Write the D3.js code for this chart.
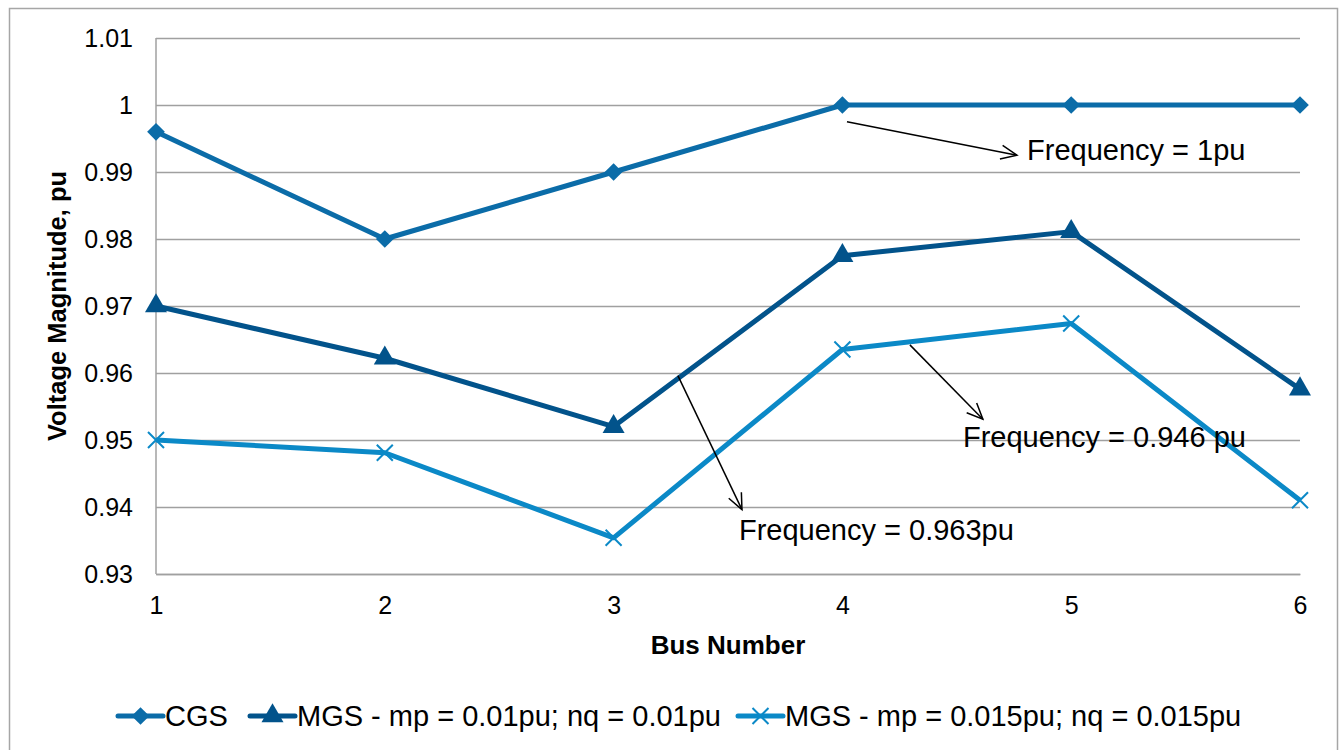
<!DOCTYPE html>
<html><head><meta charset="utf-8">
<script src="https://cdn.jsdelivr.net/npm/d3@7"></script>
<style>body{margin:0;background:#fff}svg{display:block;font-family:"Liberation Sans",Arial,sans-serif}</style>
</head><body><svg id="c" width="1341" height="750"></svg>
<script>
const buses = [1, 2, 3, 4, 5, 6];
const cgs = [0.996, 0.980, 0.990, 1.000, 1.000, 1.000];
const mgs1 = [0.970, 0.9622, 0.9520, 0.9775, 0.9811, 0.9576];
const mgs2 = [0.950, 0.9481, 0.9354, 0.9635, 0.9674, 0.9410];
const seriesNames = ["CGS", "MGS - mp = 0.01pu; nq = 0.01pu", "MGS - mp = 0.015pu; nq = 0.015pu"];
const yTicks = [0.93, 0.94, 0.95, 0.96, 0.97, 0.98, 0.99, 1, 1.01];
const yTickLabels = ["0.93", "0.94", "0.95", "0.96", "0.97", "0.98", "0.99", "1", "1.01"];
const annText = ["Frequency = 1pu", "Frequency = 0.946 pu", "Frequency = 0.963pu"];
const annFrom = [[4.02, 0.9975], [4.295, 0.9642], [3.281, 0.9596]];
const annTo = [[4.763, 0.9925], [4.614, 0.9531], [3.561, 0.9396]];
const annPos = [[4.807, 0.9918], [4.527, 0.9490], [3.548, 0.9351]];

const colors = ["#0b6ca8", "#02538b", "#0b89c7"];
const markers = ["diamond", "triangle", "x"];
const svg = d3.select("#c");
const L = 156, R = 1300, T = 38, B = 574;
const x = d3.scaleLinear().domain([1, 6]).range([L, R]);
const y = d3.scaleLinear().domain([0.93, 1.01]).range([B, T]);

// outer border
svg.append("rect").attr("x", 9.5).attr("y", 8.5).attr("width", 1328).attr("height", 760)
  .attr("fill", "none").attr("stroke", "#a6a6a6").attr("stroke-width", 1.5);

// gridlines
const yAxis = d3.axisLeft(y).tickValues(yTicks).tickFormat((d, i) => yTickLabels[i]).tickSize(-(R - L)).tickPadding(23);
const gy = svg.append("g").attr("transform", `translate(${L},0)`).call(yAxis);
gy.select(".domain").remove();
gy.selectAll(".tick line").attr("stroke", "#a0a0a0").attr("stroke-width", 1.5);
gy.selectAll(".tick text").attr("font-size", 25).attr("fill", "#000").attr("font-family", "Liberation Sans, Arial, sans-serif");
svg.append("line").attr("x1", L).attr("x2", L).attr("y1", T).attr("y2", B).attr("stroke", "#a0a0a0").attr("stroke-width", 1.5);

const xAxis = d3.axisBottom(x).tickValues(buses).tickFormat(d3.format("d")).tickSize(0).tickPadding(22);
const gx = svg.append("g").attr("transform", `translate(0,${B})`).call(xAxis);
gx.select(".domain").attr("stroke", "#a0a0a0").attr("stroke-width", 1.5);
gx.selectAll(".tick text").attr("font-size", 25).attr("fill", "#000").attr("font-family", "Liberation Sans, Arial, sans-serif");

// axis titles
svg.append("text").attr("x", 728).attr("y", 654).attr("text-anchor", "middle")
  .attr("font-size", 26).attr("font-weight", "bold").text("Bus Number");
svg.append("text").attr("transform", `translate(57,306) rotate(-90)`).attr("text-anchor", "middle")
  .attr("dy", "0.35em").attr("font-size", 25.5).attr("font-weight", "bold").text("Voltage Magnitude, pu");

const symCross = {
  draw(ctx, size) {
    const r = Math.sqrt(size) / 2;
    ctx.moveTo(-r, -r); ctx.lineTo(r, r);
    ctx.moveTo(-r, r); ctx.lineTo(r, -r);
  }
};
function drawMarker(g, type, cx, cy, color) {
  if (type === "diamond") {
    g.append("path").attr("d", d3.symbol(d3.symbolDiamond2, 200)()).attr("transform", `translate(${cx},${cy})`)
      .attr("fill", color);
  } else if (type === "triangle") {
    g.append("path").attr("d", d3.symbol(d3.symbolTriangle, 210)()).attr("transform", `translate(${cx},${cy})`)
      .attr("fill", color);
  } else {
    g.append("path").attr("d", d3.symbol(symCross, 256)()).attr("transform", `translate(${cx},${cy})`)
      .attr("fill", "none").attr("stroke", color).attr("stroke-width", 2);
  }
}

const allSeries = [cgs, mgs1, mgs2];
const line = d3.line().x((d, i) => x(buses[i])).y(d => y(d));
allSeries.forEach((s, k) => {
  const g = svg.append("g");
  g.append("path").datum(s).attr("d", line).attr("fill", "none").attr("stroke", colors[k])
    .attr("stroke-width", 5).attr("stroke-linejoin", "round");
  s.forEach((v, i) => drawMarker(g, markers[k], x(buses[i]), y(v), colors[k]));
});

// annotations
const defs = svg.append("defs");
defs.append("marker").attr("id", "arr").attr("viewBox", "0 0 20 20").attr("refX", 18).attr("refY", 10)
  .attr("markerWidth", 20).attr("markerHeight", 20).attr("markerUnits", "userSpaceOnUse").attr("orient", "auto")
  .append("path").attr("d", "M2,3 L18,10 L2,17").attr("fill", "none").attr("stroke", "#000").attr("stroke-width", 1.5);
annText.forEach((t, i) => {
  svg.append("line").attr("x1", x(annFrom[i][0])).attr("y1", y(annFrom[i][1]))
    .attr("x2", x(annTo[i][0])).attr("y2", y(annTo[i][1]))
    .attr("stroke", "#000").attr("stroke-width", 1.5).attr("marker-end", "url(#arr)");
  svg.append("text").attr("x", x(annPos[i][0])).attr("y", y(annPos[i][1])).attr("font-size", 29).attr("fill", "#000").text(t);
});

// legend
const legX = [118, 250, 738];
const legY = 716;
seriesNames.forEach((n, k) => {
  const g = svg.append("g");
  g.append("line").attr("x1", legX[k]).attr("x2", legX[k] + 45).attr("y1", legY).attr("y2", legY)
    .attr("stroke", colors[k]).attr("stroke-width", 5).attr("stroke-linecap", "round");
  drawMarker(g, markers[k], legX[k] + 22.5, legY, colors[k]);
  g.append("text").attr("x", legX[k] + 47).attr("y", legY).attr("dy", "0.35em").attr("font-size", 29).text(n);
});
</script></body></html>
